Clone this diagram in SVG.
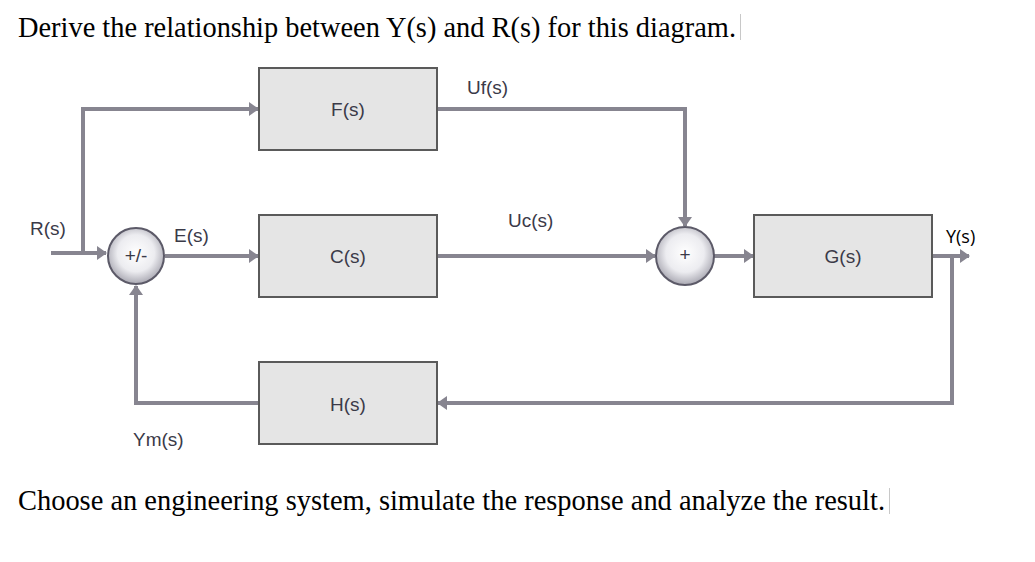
<svg xmlns="http://www.w3.org/2000/svg" width="1035" height="562" viewBox="0 0 1035 562">
<style>
.box{fill:#e5e5e5;stroke:#5a5a5a;stroke-width:2}
.lbl{font-family:"Liberation Sans",Arial,sans-serif;font-size:19px;fill:#3b3a48}
.wire{fill:none;stroke:#878590;stroke-width:4}
.sum{fill:url(#sg);stroke:#5c5a68;stroke-width:2}
.big{font-family:"Liberation Serif","Times New Roman",serif;font-size:30px;fill:#000}
</style>
<defs>
<radialGradient id="sg" cx="50%" cy="45%" r="55%">
<stop offset="0" stop-color="#ffffff"/>
<stop offset="0.6" stop-color="#ececf0"/>
<stop offset="1" stop-color="#a9a8b2"/>
</radialGradient>
<marker id="ah" markerUnits="userSpaceOnUse" markerWidth="10" markerHeight="14" refX="9" refY="7" orient="auto">
<path d="M0,0 L10,7 L0,14 z" fill="#878590"/>
</marker>
</defs>
<text class="big" x="18" y="37" textLength="718" lengthAdjust="spacingAndGlyphs">Derive the relationship between Y(s) and R(s) for this diagram.</text>
<line x1="740.5" y1="14" x2="740.5" y2="40" stroke="#c8c8c8" stroke-width="1"/>
<g id="connectors">
<path class="wire" d="M51,253 L106,253" marker-end="url(#ah)"/>
<path class="wire" d="M83,253 L83,109 L258,109" marker-end="url(#ah)"/>
<path class="wire" d="M165,256 L258,256" marker-end="url(#ah)"/>
<path class="wire" d="M437,109 L685,109 L685,226" marker-end="url(#ah)"/>
<path class="wire" d="M437,256 L655,256" marker-end="url(#ah)"/>
<path class="wire" d="M714,256 L753,256" marker-end="url(#ah)"/>
<path class="wire" d="M932,256 L969,256" marker-end="url(#ah)"/>
<path class="wire" d="M952,256 L952,403 L438,403" marker-end="url(#ah)"/>
<path class="wire" d="M259,403 L136,403 L136,286" marker-end="url(#ah)"/>
</g>
<g id="sum1"><circle class="sum" cx="136" cy="256" r="28"/><text class="lbl" x="136" y="262" text-anchor="middle" font-size="16">+/-</text></g>
<g id="sum2"><circle class="sum" cx="685" cy="256" r="29"/><text class="lbl" x="685" y="261" text-anchor="middle" font-size="14" fill="#333">+</text></g>
<g id="F"><rect class="box" x="259" y="68" width="178" height="82"/><text class="lbl" x="348" y="116" text-anchor="middle">F(s)</text></g>
<g id="C"><rect class="box" x="259" y="215" width="178" height="82"/><text class="lbl" x="348" y="263" text-anchor="middle">C(s)</text></g>
<g id="H"><rect class="box" x="259" y="362" width="178" height="82"/><text class="lbl" x="348" y="411" text-anchor="middle">H(s)</text></g>
<g id="G"><rect class="box" x="754" y="215" width="178" height="82"/><text class="lbl" x="843" y="263" text-anchor="middle">G(s)</text></g>
<text class="lbl" x="30" y="235">R(s)</text>
<text class="lbl" x="174" y="242">E(s)</text>
<text class="lbl" x="467" y="94">Uf(s)</text>
<text class="lbl" x="508" y="227">Uc(s)</text>
<text class="lbl" x="133" y="446">Ym(s)</text>
<text x="946" y="243" font-family="'Open Sans','Liberation Sans',sans-serif" font-size="18" fill="#000">Y(s)</text>
<text class="big" x="18" y="510" textLength="867" lengthAdjust="spacingAndGlyphs">Choose an engineering system, simulate the response and analyze the result.</text>
<line x1="889.5" y1="488" x2="889.5" y2="514" stroke="#c8c8c8" stroke-width="1"/>
</svg>
